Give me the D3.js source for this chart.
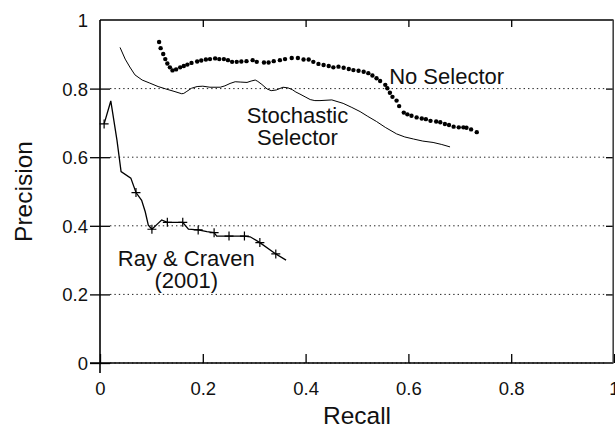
<!DOCTYPE html>
<html>
<head>
<meta charset="utf-8">
<script src="https://cdn.jsdelivr.net/npm/d3@7/dist/d3.min.js"></script>
<style>
  html, body { margin: 0; padding: 0; background: #fff; }
  svg { display: block; font-family: "Liberation Sans", Arial, Helvetica, sans-serif; }
</style>
</head>
<body>
<svg id="chart" width="615" height="426"></svg>
<script>
// Precision / recall curves for three extraction settings

const xTicks = [0, 0.2, 0.4, 0.6, 0.8, 1];
const yTicks = [0, 0.2, 0.4, 0.6, 0.8, 1];
const gridValues = [0, 0.2, 0.4, 0.6, 0.8];

// "No Selector" — dotted curve [recall, precision]
const noSelector = [
  [0.115, 0.936], [0.118, 0.918], [0.123, 0.901], [0.127, 0.886], [0.131, 0.873],
  [0.136, 0.862], [0.141, 0.853], [0.148, 0.856], [0.156, 0.862], [0.163, 0.866],
  [0.170, 0.870], [0.178, 0.875], [0.189, 0.879], [0.197, 0.882], [0.206, 0.885],
  [0.214, 0.886], [0.224, 0.888], [0.232, 0.886], [0.241, 0.886], [0.249, 0.883],
  [0.257, 0.878], [0.266, 0.878], [0.275, 0.879], [0.285, 0.880], [0.297, 0.883],
  [0.305, 0.878], [0.319, 0.876], [0.328, 0.876], [0.338, 0.880], [0.350, 0.883],
  [0.360, 0.886], [0.373, 0.889], [0.385, 0.889], [0.396, 0.885], [0.406, 0.885],
  [0.415, 0.878], [0.425, 0.872], [0.435, 0.869], [0.445, 0.866], [0.454, 0.862],
  [0.464, 0.864], [0.474, 0.861], [0.484, 0.857], [0.493, 0.854], [0.503, 0.852],
  [0.513, 0.849], [0.522, 0.845], [0.530, 0.838], [0.538, 0.830], [0.545, 0.822],
  [0.555, 0.811], [0.559, 0.801], [0.564, 0.788], [0.569, 0.776], [0.577, 0.765],
  [0.582, 0.749], [0.591, 0.730], [0.598, 0.725], [0.606, 0.721], [0.616, 0.716],
  [0.626, 0.713], [0.634, 0.711], [0.643, 0.706], [0.654, 0.704], [0.662, 0.702],
  [0.671, 0.697], [0.679, 0.694], [0.688, 0.689], [0.698, 0.687], [0.707, 0.687],
  [0.713, 0.686], [0.722, 0.681], [0.733, 0.673]
];

// "Stochastic Selector" — thin solid curve
const stochastic = [
  [0.039, 0.920], [0.049, 0.886], [0.058, 0.863], [0.068, 0.840], [0.082, 0.825],
  [0.097, 0.816], [0.113, 0.806], [0.128, 0.799], [0.144, 0.792], [0.159, 0.785],
  [0.163, 0.786], [0.169, 0.792], [0.178, 0.801], [0.189, 0.806], [0.200, 0.807],
  [0.214, 0.804], [0.234, 0.804], [0.243, 0.808], [0.253, 0.815], [0.263, 0.820],
  [0.274, 0.819], [0.286, 0.818], [0.294, 0.822], [0.302, 0.825], [0.307, 0.821],
  [0.315, 0.812], [0.325, 0.799], [0.333, 0.794], [0.343, 0.796], [0.356, 0.804],
  [0.366, 0.802], [0.374, 0.797], [0.381, 0.790], [0.389, 0.784], [0.399, 0.776],
  [0.409, 0.768], [0.418, 0.765], [0.428, 0.765], [0.451, 0.767], [0.473, 0.757],
  [0.490, 0.745], [0.506, 0.733], [0.521, 0.719], [0.538, 0.704], [0.555, 0.687],
  [0.577, 0.668], [0.593, 0.659], [0.610, 0.653], [0.628, 0.647], [0.648, 0.643],
  [0.665, 0.637], [0.681, 0.630]
];

// "Ray & Craven (2001)" — solid curve with + markers at the reported points
const rayCravenLine = [
  [0.008, 0.697], [0.021, 0.764], [0.033, 0.650], [0.041, 0.558], [0.060, 0.539],
  [0.070, 0.497], [0.081, 0.474], [0.088, 0.441], [0.094, 0.402], [0.101, 0.390],
  [0.113, 0.407], [0.120, 0.417], [0.131, 0.410], [0.161, 0.410], [0.172, 0.390],
  [0.191, 0.388], [0.208, 0.383], [0.222, 0.380], [0.227, 0.370], [0.251, 0.370],
  [0.281, 0.370], [0.292, 0.368], [0.311, 0.351], [0.342, 0.318], [0.362, 0.300]
];
const rayCravenMarks = [
  [0.008, 0.697], [0.070, 0.497], [0.101, 0.390], [0.131, 0.410], [0.161, 0.410],
  [0.191, 0.388], [0.222, 0.380], [0.251, 0.370], [0.281, 0.370], [0.311, 0.351],
  [0.342, 0.318]
];

// Curve captions: text lines, anchor point in data units
const captions = [
  { lines: ["No Selector"], x: 0.5625, y: 0.813, anchor: "start" },
  { lines: ["Stochastic", "Selector"], x: 0.3842, y: 0.699, anchor: "middle" },
  { lines: ["Ray & Craven", "(2001)"], x: 0.1679, y: 0.282, anchor: "middle" }
];

const svg = d3.select("#chart");
const plotLeft = 100, plotRight = 614, plotTop = 20, plotBottom = 363;

const x = d3.scaleLinear().domain([0, 1]).range([plotLeft, plotRight]);
const y = d3.scaleLinear().domain([0, 1]).range([plotBottom, plotTop]);
const fmt = d3.format("~g");

// dotted horizontal grid
svg.append("g")
  .selectAll("line")
  .data(gridValues)
  .join("line")
  .attr("x1", plotLeft + 10).attr("x2", plotRight - 8)
  .attr("y1", d => y(d)).attr("y2", d => y(d))
  .attr("stroke", "#222").attr("stroke-width", 1)
  .attr("stroke-dasharray", "1.4,3");

// bottom axis: inward ticks, labels below
const gx = svg.append("g")
  .attr("transform", `translate(0,${plotBottom})`)
  .call(d3.axisBottom(x).tickValues(xTicks).tickSize(-9).tickFormat(fmt));
gx.select(".domain").remove();
gx.selectAll("line").attr("stroke", "#000").attr("stroke-width", 1.3);
gx.selectAll("text")
  .attr("y", 31.5).attr("dy", null)
  .attr("font-size", 18.5).attr("fill", "#111")
  .attr("font-family", "Liberation Sans, Arial, sans-serif");

// top axis: inward ticks only
const gxt = svg.append("g")
  .attr("transform", `translate(0,${plotTop})`)
  .call(d3.axisTop(x).tickValues(xTicks.slice(1, -1)).tickSize(-7).tickFormat(""));
gxt.select(".domain").remove();
gxt.selectAll("line").attr("stroke", "#000").attr("stroke-width", 1.3);

// left axis: ticks crossing the axis, labels to the left
const gy = svg.append("g")
  .attr("transform", `translate(${plotLeft},0)`)
  .call(d3.axisLeft(y).tickValues(yTicks).tickSize(10).tickPadding(2).tickFormat(fmt));
gy.select(".domain").remove();
gy.selectAll(".tick line")
  .attr("x1", d => d < 1 ? 10 : 0)
  .attr("x2", d => d < 1 ? -10 : 0)
  .attr("stroke", "#000").attr("stroke-width", 1.3);
gy.selectAll("text")
  .attr("font-size", 18.5).attr("fill", "#111")
  .attr("font-family", "Liberation Sans, Arial, sans-serif")
  .attr("dy", "0.35em");

// right axis: inward ticks only
const gyr = svg.append("g")
  .attr("transform", `translate(${plotRight},0)`)
  .call(d3.axisRight(y).tickValues(yTicks.slice(1, -1)).tickSize(-8).tickFormat(""));
gyr.select(".domain").remove();
gyr.selectAll("line").attr("stroke", "#000").attr("stroke-width", 1.3);

// frame (axes extend slightly past the origin)
const frame = svg.append("g").attr("stroke", "#000").attr("stroke-width", 1.6).attr("fill", "none");
frame.append("line").attr("x1", plotLeft).attr("x2", plotLeft).attr("y1", plotTop).attr("y2", plotBottom + 10);
frame.append("line").attr("x1", plotLeft - 10).attr("x2", plotRight - 0.5).attr("y1", plotBottom).attr("y2", plotBottom);
frame.append("line").attr("x1", plotLeft).attr("x2", plotRight - 0.5).attr("y1", plotTop).attr("y2", plotTop);
frame.append("line").attr("x1", plotRight - 0.8).attr("x2", plotRight - 0.8).attr("y1", plotTop).attr("y2", plotBottom)
  .attr("stroke", "#444");

const line = d3.line().x(d => x(d[0])).y(d => y(d[1]));

// Stochastic Selector
svg.append("path")
  .datum(stochastic)
  .attr("d", line)
  .attr("fill", "none").attr("stroke", "#000").attr("stroke-width", 1);

// Ray & Craven
svg.append("path")
  .datum(rayCravenLine)
  .attr("d", line)
  .attr("fill", "none").attr("stroke", "#000").attr("stroke-width", 1.3);

svg.append("g")
  .selectAll("path")
  .data(rayCravenMarks)
  .join("path")
  .attr("transform", d => `translate(${x(d[0])},${y(d[1])})`)
  .attr("d", "M-4.5,0H4.5M0,-4.5V4.5")
  .attr("stroke", "#000").attr("stroke-width", 1.2).attr("fill", "none");

// No Selector dots
svg.append("g")
  .selectAll("circle")
  .data(noSelector)
  .join("circle")
  .attr("cx", d => x(d[0])).attr("cy", d => y(d[1]))
  .attr("r", 2.2).attr("fill", "#000");

// captions
captions.forEach(c => {
  const t = svg.append("text")
    .attr("x", x(c.x)).attr("y", y(c.y))
    .attr("text-anchor", c.anchor)
    .attr("font-size", 22).attr("fill", "#111");
  c.lines.forEach((s, i) => {
    t.append("tspan").attr("x", x(c.x)).attr("dy", i === 0 ? 0 : 21.7).text(s);
  });
});

// axis titles
svg.append("text")
  .attr("x", (plotLeft + plotRight) / 2).attr("y", 424)
  .attr("text-anchor", "middle")
  .attr("font-size", 24.5).attr("fill", "#111")
  .text("Recall");

svg.append("text")
  .attr("transform", `translate(32,${(plotTop + plotBottom) / 2}) rotate(-90)`)
  .attr("text-anchor", "middle")
  .attr("font-size", 24.5).attr("fill", "#111")
  .text("Precision");
</script>
</body>
</html>
